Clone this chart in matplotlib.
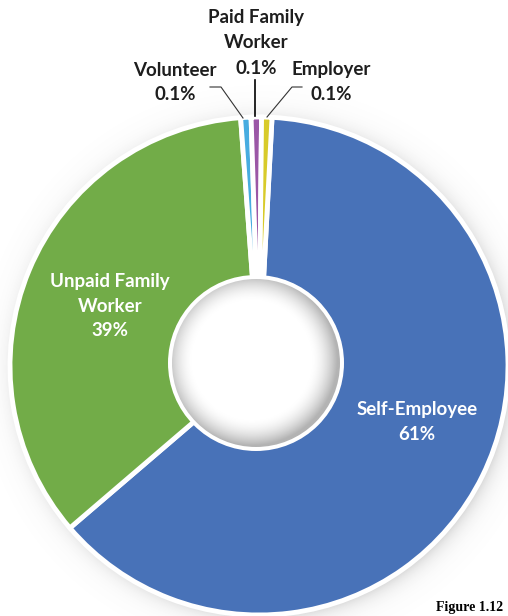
import numpy as np
import matplotlib
matplotlib.use("Agg")
import matplotlib.pyplot as plt
from matplotlib.patches import Circle

# Slice shares as drawn (small slices are drawn wider than their labelled 0.1%)
categories = ['Self-Employee', 'Unpaid Family Worker', 'Volunteer', 'Paid Family Worker', 'Employer']
shares = [62.9, 35.1, 0.67, 0.67, 0.67]
pct_labels = ['61%', '39%', '0.1%', '0.1%', '0.1%']
colors = ['#4872B8', '#72AC48', '#47ACE0', '#9B57A6', '#D8CB2A']

W, H = 508, 616
def Y(y):
    # convert picture rows (top = 0) to data y
    return H - y

cx, cy, R = 259, 366, 249      # pie centre and radius (pixels)
hx, hy, HR = 256, 363, 88      # hole

fig = plt.figure(figsize=(W / 100, H / 100), dpi=100)
ax = fig.add_axes([0, 0, 1, 1])

# soft outer shadow around the pie
xx, yy = np.meshgrid(np.arange(W) + 0.5, np.arange(H) + 0.5)
d = np.hypot(xx - (cx + 4), yy - (cy + 3))
a = np.where(d > R - 4, 0.30 * np.exp(-(d - R + 4) / 9.0), 0.30)
shadow = np.zeros((H, W, 4))
shadow[..., :3] = 0.45
shadow[..., 3] = a
ax.imshow(shadow, extent=(0, W, 0, H), origin='upper', zorder=0, interpolation='bilinear')

wedges, _ = ax.pie(shares, colors=colors, startangle=87, counterclock=False,
                   center=(cx, Y(cy)), radius=R,
                   wedgeprops=dict(edgecolor='white', linewidth=3.5))
for w in wedges:
    w.set_zorder(2)

ax.set_xlim(0, W)
ax.set_ylim(0, H)
ax.set_aspect('equal')
ax.axis('off')

# hole with a light inner shadow near its rim
ax.add_patch(Circle((hx, Y(hy)), HR, facecolor='white', edgecolor='none', zorder=3))
inner = HR - 4
gx, gy = np.meshgrid(np.linspace(-inner, inner, 300), np.linspace(-inner, inner, 300))
gd = np.hypot(gx + 4, gy - 3) / inner
t = np.clip((gd - 0.70) / 0.32, 0, 1) ** 1.8
shade = 1 - 0.30 * t
img = ax.imshow(shade, cmap='gray', vmin=0, vmax=1,
                extent=(hx - inner, hx + inner, Y(hy) - inner, Y(hy) + inner),
                origin='lower', zorder=4, interpolation='bilinear')
img.set_clip_path(Circle((hx, Y(hy)), inner, transform=ax.transData))

font = dict(family='Lato', fontweight='bold', fontsize=13.5, ha='center', va='center')
dark = '#1e1e1e'

# labels inside the big slices
ax.text(417, Y(409), 'Self-Employee', color='white', zorder=6, **font)
ax.text(417, Y(435), pct_labels[0], color='white', zorder=6, **font)
ax.text(110, Y(281), 'Unpaid Family', color='white', zorder=6, **font)
ax.text(110, Y(306), 'Worker', color='white', zorder=6, **font)
ax.text(110, Y(330), pct_labels[1], color='white', zorder=6, **font)

# outside labels for the tiny slices
ax.text(175, Y(70), 'Volunteer', color=dark, zorder=6, **font)
ax.text(175, Y(95), pct_labels[2], color=dark, zorder=6, **font)
ax.text(256, Y(17), 'Paid Family', color=dark, zorder=6, **font)
ax.text(256, Y(42), 'Worker', color=dark, zorder=6, **font)
ax.text(256, Y(68), pct_labels[3], color=dark, zorder=6, **font)
ax.text(331, Y(70), 'Employer', color=dark, zorder=6, **font)
ax.text(331, Y(95), pct_labels[4], color=dark, zorder=6, **font)

# leader lines
lk = dict(color='#333333', lw=0.8, zorder=5)
ax.plot([210, 221, 243], [Y(87), Y(87), Y(118)], **lk)
ax.plot([255, 255], [Y(80), Y(116)], color='black', lw=1.2, zorder=5)
ax.plot([302, 292, 267], [Y(87), Y(87), Y(117)], **lk)

# caption at the bottom-right corner
ax.text(503, Y(614), 'Figure 1.12', family='Liberation Serif', fontweight='bold',
        fontsize=10, ha='right', va='bottom', color='black', zorder=6)

fig.savefig('out.png', dpi=100)
